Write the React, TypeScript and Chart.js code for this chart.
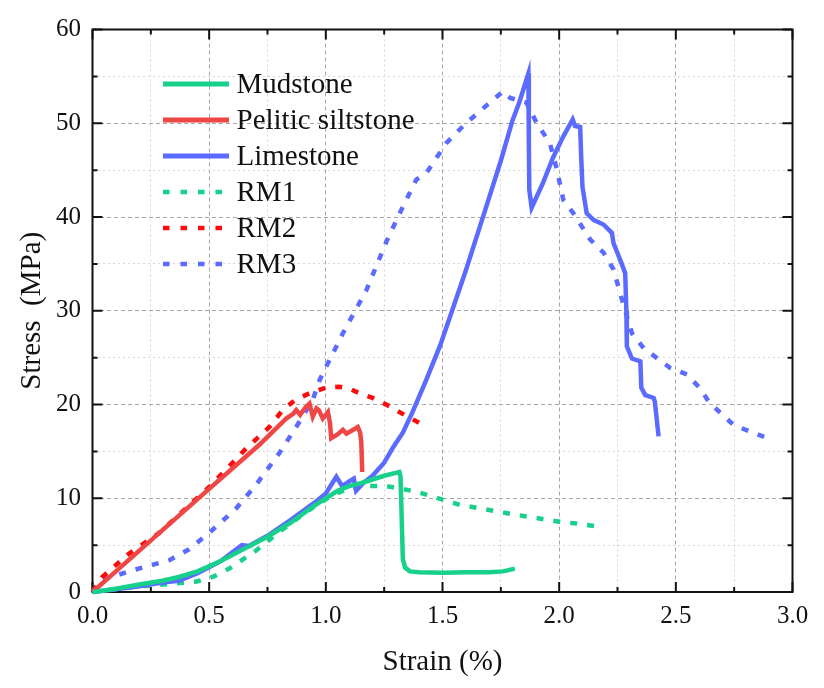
import React, { useEffect, useRef } from "react";
import { Chart, registerables } from "chart.js";

Chart.register(...registerables);

const FONT = "'Liberation Serif', 'Times New Roman', serif";

// ---- data (strain %, stress MPa) ----
const mudstoneStrain = [0, 0.05, 0.1, 0.2, 0.3, 0.37, 0.45, 0.55, 0.65, 0.75, 0.85, 0.95, 1.05, 1.1, 1.15, 1.2, 1.25, 1.3, 1.315, 1.32, 1.325, 1.33, 1.34, 1.36, 1.4, 1.5, 1.6, 1.7, 1.76, 1.81];
const mudstoneStress = [0, 0.15, 0.35, 0.8, 1.2, 1.6, 2.2, 3.3, 4.6, 5.9, 7.4, 9.2, 10.8, 11.3, 11.6, 12.0, 12.4, 12.7, 12.8, 12.4, 8.0, 3.5, 2.6, 2.2, 2.1, 2.05, 2.1, 2.1, 2.2, 2.5];

const siltStrain = [0, 0.1, 0.3, 0.5, 0.715, 0.83, 0.86, 0.873, 0.89, 0.91, 0.93, 0.944, 0.96, 0.97, 0.987, 1.009, 1.018, 1.023, 1.05, 1.073, 1.088, 1.11, 1.137, 1.147, 1.152, 1.156];
const siltStress = [0, 2.2, 6.6, 11.0, 15.7, 18.5, 19.0, 19.4, 18.9, 19.6, 20.1, 18.7, 19.6, 19.4, 18.5, 19.2, 18.0, 16.4, 16.8, 17.3, 16.9, 17.2, 17.6, 17.0, 16.0, 12.8];

const limeStrain = [0, 0.1, 0.2, 0.3, 0.37, 0.45, 0.55, 0.64, 0.67, 0.75, 0.85, 0.95, 1.0, 1.045, 1.07, 1.1, 1.12, 1.13, 1.16, 1.2, 1.25, 1.29, 1.33, 1.37, 1.43, 1.49, 1.6, 1.69, 1.75, 1.8, 1.83, 1.868, 1.87, 1.872, 1.882, 1.93, 1.975, 2.018, 2.058, 2.068, 2.09, 2.095, 2.1, 2.118, 2.147, 2.19, 2.226, 2.233, 2.262, 2.283, 2.288, 2.29, 2.312, 2.348, 2.352, 2.369, 2.405, 2.41, 2.426];
const limeStress = [0, 0.3, 0.6, 1.0, 1.2, 2.0, 3.3, 5.0, 4.9, 6.0, 7.7, 9.5, 10.5, 12.3, 11.3, 11.8, 12.1, 10.8, 11.6, 12.4, 13.8, 15.5, 17.0, 19.1, 22.6, 26.3, 34.3, 41.3, 46.0, 50.3, 52.3, 55.3, 48.0, 42.9, 41.0, 43.6, 46.4, 48.6, 50.4, 49.7, 49.6, 46.0, 43.2, 40.4, 39.7, 39.2, 38.3, 37.2, 35.4, 34.0, 30.0, 26.2, 24.9, 24.6, 21.8, 21.0, 20.7, 20.3, 16.6];

const rm1Strain = [0, 0.1, 0.2, 0.3, 0.4, 0.443, 0.515, 0.586, 0.7, 0.8, 0.887, 0.95, 1.02, 1.1, 1.17, 1.26, 1.388, 1.574, 1.8, 2.0, 2.075, 2.16];
const rm1Stress = [0, 0.3, 0.6, 0.8, 1.0, 1.1, 1.6, 2.5, 4.4, 6.4, 8.0, 9.1, 10.2, 11.1, 11.3, 11.3, 10.7, 9.3, 8.3, 7.5, 7.3, 7.0];

const rm2Strain = [0, 0.042, 0.157, 0.286, 0.386, 0.5, 0.658, 0.758, 0.815, 0.87, 0.93, 1.0, 1.059, 1.1, 1.145, 1.2, 1.274, 1.3, 1.403];
const rm2Stress = [0, 1.6, 4.1, 6.3, 8.6, 11.2, 15.3, 17.6, 19.4, 20.5, 21.2, 21.8, 21.9, 21.7, 21.2, 20.7, 19.8, 19.4, 18.0];

const rm3Strain = [0, 0.03, 0.17, 0.33, 0.41, 0.5, 0.615, 0.7, 0.8, 0.873, 0.944, 0.973, 1.073, 1.174, 1.26, 1.33, 1.388, 1.431, 1.517, 1.596, 1.703, 1.76, 1.79, 1.86, 1.904, 1.96, 1.99, 2.018, 2.061, 2.133, 2.19, 2.233, 2.269, 2.312, 2.362, 2.476, 2.548, 2.605, 2.641, 2.691, 2.748, 2.82, 2.906];
const rm3Stress = [0, 1.2, 2.3, 3.4, 4.5, 6.3, 8.9, 11.4, 14.8, 17.6, 20.5, 22.6, 27.6, 32.2, 37.4, 41.1, 44.0, 44.7, 47.9, 49.9, 52.2, 53.4, 52.7, 52.2, 50.0, 47.9, 45.1, 41.8, 40.4, 37.6, 36.2, 34.4, 31.2, 27.6, 26.0, 23.9, 23.2, 21.7, 20.3, 19.1, 17.8, 17.1, 16.3];

const seriesNames = ["Mudstone", "Pelitic siltstone", "Limestone", "RM1", "RM2", "RM3"];
const seriesColors = ["#17d08a", "#ef4646", "#5b6bff", "#17d08a", "#ff0a0a", "#5b6bff"];

const xMin = 0, xMax = 3, xStep = 0.25, xMajor = 0.5;
const yMin = 0, yMax = 60, yStep = 5, yMajor = 10;

const DASH = [7, 10];

function pts(xs: number[], ys: number[]) {
  return xs.map((x, i) => ({ x, y: ys[i] }));
}

function isMajor(v: number, m: number) {
  const r = v / m;
  return Math.abs(r - Math.round(r)) < 1e-6;
}

const framePlugin = {
  id: "frame",
  beforeDatasetsDraw(chart: any) {
    const { ctx, chartArea: a, scales } = chart;
    const xs = scales.x, ys = scales.y;
    ctx.save();
    ctx.strokeStyle = "#111";
    ctx.lineWidth = 2;
    ctx.setLineDash([]);
    ctx.beginPath();
    for (let v = xMin; v <= xMax + 1e-9; v += xStep) {
      const p = xs.getPixelForValue(v);
      const len = isMajor(v, xMajor) ? 10 : 5;
      ctx.moveTo(p, a.bottom);
      ctx.lineTo(p, a.bottom - len);
      ctx.moveTo(p, a.top);
      ctx.lineTo(p, a.top + len);
    }
    for (let v = yMin; v <= yMax + 1e-9; v += yStep) {
      const p = ys.getPixelForValue(v);
      const len = isMajor(v, yMajor) ? 10 : 5;
      ctx.moveTo(a.left, p);
      ctx.lineTo(a.left + len, p);
      ctx.moveTo(a.right, p);
      ctx.lineTo(a.right - len, p);
    }
    ctx.stroke();
    ctx.strokeRect(a.left, a.top, a.right - a.left, a.bottom - a.top);
    ctx.restore();
  },
};

const legendPlugin = {
  id: "customLegend",
  afterDraw(chart: any) {
    const { ctx, chartArea: a } = chart;
    const lx0 = a.left + 70.5;
    const lx1 = a.left + 136.5;
    const tx = a.left + 144;
    const ry0 = a.top + 54.5;
    const dy = 36;
    ctx.save();
    chart.data.datasets.forEach((ds: any, i: number) => {
      const y = ry0 + i * dy;
      ctx.strokeStyle = ds.borderColor;
      ctx.lineWidth = ds.borderDash && ds.borderDash.length ? 4.5 : 5;
      ctx.setLineDash(ds.borderDash && ds.borderDash.length ? [6.5, 11] : []);
      ctx.beginPath();
      ctx.moveTo(lx0, y);
      ctx.lineTo(lx1, y);
      ctx.stroke();
      ctx.setLineDash([]);
      ctx.fillStyle = "#111";
      ctx.font = `29px ${FONT}`;
      ctx.textBaseline = "middle";
      ctx.textAlign = "left";
      ctx.fillText(ds.label, tx, y + 1);
    });
    ctx.restore();
  },
};

export default function App() {
  const ref = useRef<HTMLCanvasElement | null>(null);

  useEffect(() => {
    if (!ref.current) return;
    Chart.defaults.font.family = FONT;
    const data = [
      pts(mudstoneStrain, mudstoneStress),
      pts(siltStrain, siltStress),
      pts(limeStrain, limeStress),
      pts(rm1Strain, rm1Stress),
      pts(rm2Strain, rm2Stress),
      pts(rm3Strain, rm3Stress),
    ];
    const datasets = data.map((d, i) => ({
      label: seriesNames[i],
      data: d,
      borderColor: seriesColors[i],
      backgroundColor: seriesColors[i],
      borderWidth: i < 3 ? 4.5 : 4.5,
      borderDash: i < 3 ? [] : DASH,
      pointRadius: 0,
      tension: 0,
      fill: false,
      clip: false as any,
      order: i < 3 ? 1 : 2,
    }));

    const chart = new Chart(ref.current, {
      type: "line",
      data: { datasets },
      options: {
        animation: false,
        responsive: false,
        devicePixelRatio: 1,
        parsing: false as any,
        layout: { padding: { top: 29.5, right: 31.5, left: 0, bottom: 0 } },
        plugins: { legend: { display: false }, tooltip: { enabled: false } },
        scales: {
          x: {
            type: "linear",
            min: xMin,
            max: xMax,
            afterFit: (s: any) => { s.height = 96; },
            afterBuildTicks: (s: any) => {
              const t = [];
              for (let v = xMin; v <= xMax + 1e-9; v += xStep) t.push({ value: Math.round(v * 100) / 100 });
              s.ticks = t;
            },
            ticks: {
              autoSkip: false,
              maxRotation: 0,
              padding: 9,
              color: "#111",
              font: { size: 25, family: FONT },
              callback: (v: any) => (isMajor(Number(v), xMajor) ? Number(v).toFixed(1) : ""),
            },
            grid: {
              drawTicks: false,
              color: (c: any) => (isMajor(c.tick.value, xMajor) ? "#a6a6a6" : "#d6d6d6"),
              lineWidth: 1,
            },
            border: {
              display: false,
              dash: (c: any) => (c.tick && isMajor(c.tick.value, xMajor) ? [4, 3] : [2, 3]),
            } as any,
            title: {
              display: true,
              text: "Strain (%)",
              color: "#111",
              font: { size: 29, family: FONT },
              padding: { top: 0, bottom: 8.5 },
            },
          },
          y: {
            type: "linear",
            min: yMin,
            max: yMax,
            afterFit: (s: any) => { s.width = 92.5; },
            afterBuildTicks: (s: any) => {
              const t = [];
              for (let v = yMin; v <= yMax + 1e-9; v += yStep) t.push({ value: v });
              s.ticks = t;
            },
            ticks: {
              autoSkip: false,
              padding: 11.5,
              color: "#111",
              font: { size: 25, family: FONT },
              callback: (v: any) => (isMajor(Number(v), yMajor) ? String(v) : ""),
            },
            grid: {
              drawTicks: false,
              color: (c: any) => (isMajor(c.tick.value, yMajor) ? "#a6a6a6" : "#d6d6d6"),
              lineWidth: 1,
            },
            border: {
              display: false,
              dash: (c: any) => (c.tick && isMajor(c.tick.value, yMajor) ? [4, 3] : [2, 3]),
            } as any,
            title: {
              display: true,
              text: "Stress  (MPa)",
              color: "#111",
              font: { size: 29, family: FONT },
              padding: { top: 14.5, bottom: 0 },
            },
          },
        },
      },
      plugins: [framePlugin, legendPlugin],
    } as any);
    return () => chart.destroy();
  }, []);

  return (
    <div style={{ position: "fixed", left: 0, top: 0, width: 824, height: 688, background: "#fff" }}>
      <canvas ref={ref} width={824} height={688} style={{ width: 824, height: 688, display: "block" }} />
    </div>
  );
}
